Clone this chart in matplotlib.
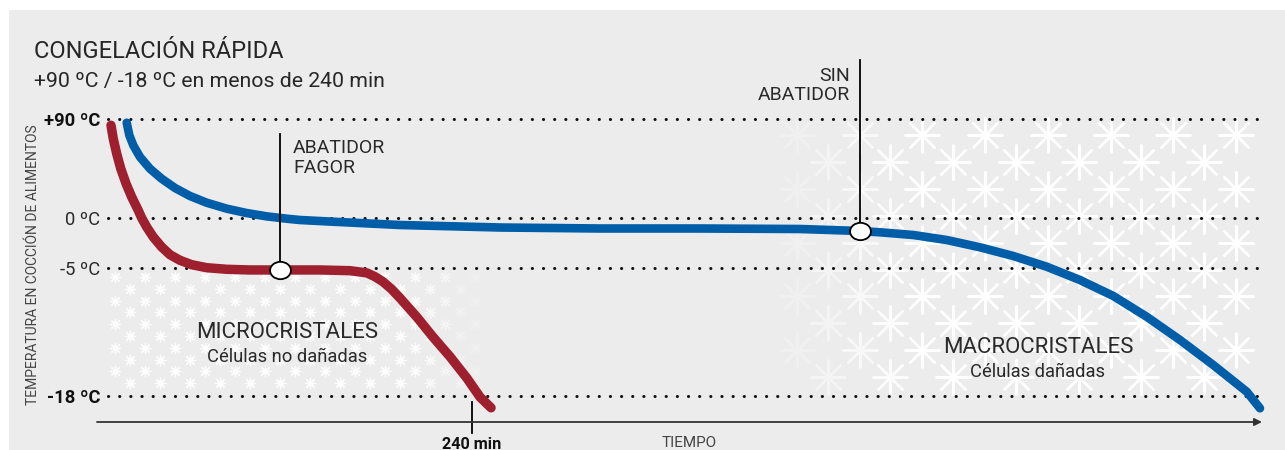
import numpy as np
import matplotlib
matplotlib.use("Agg")
import matplotlib.pyplot as plt
from matplotlib.markers import MarkerStyle
from matplotlib.transforms import Affine2D
from matplotlib.patches import Rectangle

plt.rcParams['font.family'] = ['Roboto', 'DejaVu Sans']

# temperature levels shown on the (schematic) vertical axis
levels = [90, 0, -5, -18]
level_labels = ['+90 ºC', '0 ºC', '-5 ºC', '-18 ºC']
level_bold = [True, False, False, True]

# schematic scale: temperature -> pixel row of the original drawing
scale_temps = [-23, -18, -5, 0, 90, 160]
scale_px = [445.2, 396, 268, 218, 119, 42]

# "Abatidor Fagor" curve (minutes, ºC)
fagor_t = [8.96, 10.4, 12.6, 15.2, 18.6, 22.2, 26.4, 28.6, 31.8, 36.0, 41.4, 46.7,
           53.1, 60.6, 70.2, 83.0, 97.9, 115.0, 129.9, 142.7, 161.9, 172.8, 177.9,
           183.0, 188.6, 193.9, 199.2, 204.8, 215.0, 225.9, 236.8, 245.1, 252.2]
fagor_T = [84.3, 72.1, 58.5, 44.9, 31.2, 19.1, 7.0, 0.0, -0.9, -1.9, -2.9, -3.67,
           -4.23, -4.67, -4.97, -5.13, -5.2, -5.2, -5.2, -5.2, -5.27, -5.5, -5.88,
           -6.39, -7.16, -8.05, -9.0, -10.0, -12.0, -14.0, -16.2, -18.1, -19.2]

# "Sin abatidor" curve (minutes, ºC)
sin_t = [19.0, 20.7, 23.2, 27.5, 33.9, 41.4, 49.9, 59.5, 70.2, 83.0, 95.8, 108.6,
         121.4, 129.9, 151.0, 193.9, 257.9, 321.9, 385.9, 449.9, 488.3, 501.1,
         522.4, 543.8, 565.1, 586.4, 607.8, 629.1, 650.4, 671.8, 693.1, 714.4,
         735.8, 744.3]
sin_T = [86.6, 75.2, 66.1, 55.5, 44.8, 35.7, 27.3, 20.0, 13.9, 8.5, 4.5, 1.5,
         -0.07, -0.2, -0.37, -0.7, -0.95, -1.05, -1.05, -1.1, -1.3, -1.43,
         -1.7, -2.2, -2.93, -3.8, -4.87, -6.22, -7.84, -9.95, -12.31, -14.85,
         -17.56, -19.25]

# highlighted points with leader lines: t, T, top of leader
fagor_mark = (117.1, -5.2, 76.4)
sin_mark = (488.3, -1.3, 143.6)

red = '#9e1f2d'
blue = '#005ea8'
txt = '#2a2a2a'

W, H = 1285, 450
fig = plt.figure(figsize=(W / 100, H / 100), dpi=100)
fig.patch.set_facecolor('white')

# background layer in pixel coordinates
bg = fig.add_axes([0, 0, 1, 1], zorder=0)
bg.set_xlim(0, W)
bg.set_ylim(H, 0)
bg.axis('off')
bg.add_patch(Rectangle((9, 10), W - 9, H - 10, color='#ececec', lw=0))

# snowflakes, small ones (microcristales)
for k in range(10):
    y = 277 + 11.8 * k
    xs = np.arange(115 + 15 * (k % 2), 478, 30)
    a = np.clip((490 - xs) / 90, 0.25, 0.9)
    for x, al in zip(xs, a):
        bg.scatter(x, y, marker=(8, 2, 0), s=55, lw=0.9, color='white', alpha=al)

# snowflakes, big ones (macrocristales)
for k in range(10):
    y = 135 + 26.9 * k
    xs = np.arange(797 - 32 * (k % 2), 1245, 62.7)
    a = np.clip((xs - 760) / 150, 0.05, 1.0)
    for x, al in zip(xs, a):
        bg.scatter(x, y, marker=(8, 2, 0), s=600, lw=1.7, color='white', alpha=al)

# main chart axes
x0, x1, ytop, ybot = 97, 1262, 119, 422
ax = fig.add_axes([x0 / W, 1 - ybot / H, (x1 - x0) / W, (ybot - ytop) / H], zorder=2)
ax.patch.set_alpha(0)

neg_px = -np.array(scale_px, dtype=float)
st = np.array(scale_temps, dtype=float)
ax.set_yscale('function', functions=(lambda T: np.interp(T, st, neg_px),
                                     lambda p: np.interp(p, neg_px, st)))
ax.set_xlim(0, (x1 - x0) * 240 / 375)
ax.set_ylim(np.interp(-ybot, neg_px, st), 90)
for s in ax.spines.values():
    s.set_visible(False)

ax.hlines(levels, 7, 746, colors='#111111', lw=2.2, linestyles=(0, (0.05, 3.6)),
          capstyle='round', clip_on=False, zorder=1)

ax.plot(fagor_t, fagor_T, color=red, lw=6.8, solid_capstyle='round',
        solid_joinstyle='round', clip_on=False, zorder=3)
ax.plot(sin_t, sin_T, color=blue, lw=6.2, solid_capstyle='round',
        solid_joinstyle='round', clip_on=False, zorder=3)

ell = MarkerStyle('o', transform=Affine2D().scale(1.2, 1.0))
for t, T, top in (fagor_mark, sin_mark):
    ax.plot([t, t], [T, top], color='black', lw=1.3, clip_on=False, zorder=4)
    ax.plot(t, T, marker=ell, ms=12.5, mfc='white', mec='black', mew=1.3,
            clip_on=False, zorder=5)

# time axis with arrow and 240 min tick
ax.annotate('', xy=(1.0, 0), xytext=(0, 0), xycoords='axes fraction',
            arrowprops=dict(arrowstyle='-|>', color='#333333', lw=1.3,
                            mutation_scale=11, shrinkA=0, shrinkB=0))
ax.plot([240, 240], [-18.6, -21.76], color='black', lw=1.3, clip_on=False)
ax.set_xticks([])

ax.set_yticks(levels)
ax.set_yticklabels(level_labels)
ax.tick_params(axis='y', length=0, pad=-2.2, labelsize=13.2, labelcolor=txt)
for lab, b in zip(ax.get_yticklabels(), level_bold):
    if b:
        lab.set_fontweight('bold')
        lab.set_color('#111111')

# texts
bg.text(34, 58, 'CONGELACIÓN RÁPIDA', fontsize=17, color='#262626')
bg.text(34, 87, '+90 ºC / -18 ºC en menos de 240 min', fontsize=15.3, color='#262626')
bg.text(33, 265, 'TEMPERATURA EN COCCIÓN DE ALIMENTOS', fontsize=10, color='#444444',
        rotation=90, ha='center', va='center')
bg.text(293, 153, 'ABATIDOR', fontsize=14, color=txt)
bg.text(293, 173, 'FAGOR', fontsize=14, color=txt)
bg.text(850, 81, 'SIN', fontsize=14, color=txt, ha='right')
bg.text(850, 99.5, 'ABATIDOR', fontsize=14, color=txt, ha='right')
bg.text(287, 338, 'MICROCRISTALES', fontsize=16, color=txt, ha='center')
bg.text(287, 362, 'Células no dañadas', fontsize=13.2, color=txt, ha='center')
bg.text(1038, 353, 'MACROCRISTALES', fontsize=16, color=txt, ha='center')
bg.text(1038, 377, 'Células dañadas', fontsize=13.2, color=txt, ha='center')
bg.text(689, 447, 'TIEMPO', fontsize=11, color='#444444', ha='center')
bg.text(472, 449, '240 min', fontsize=11.7, fontweight='bold', color='#111111', ha='center')

fig.savefig('out.png', dpi=100)
